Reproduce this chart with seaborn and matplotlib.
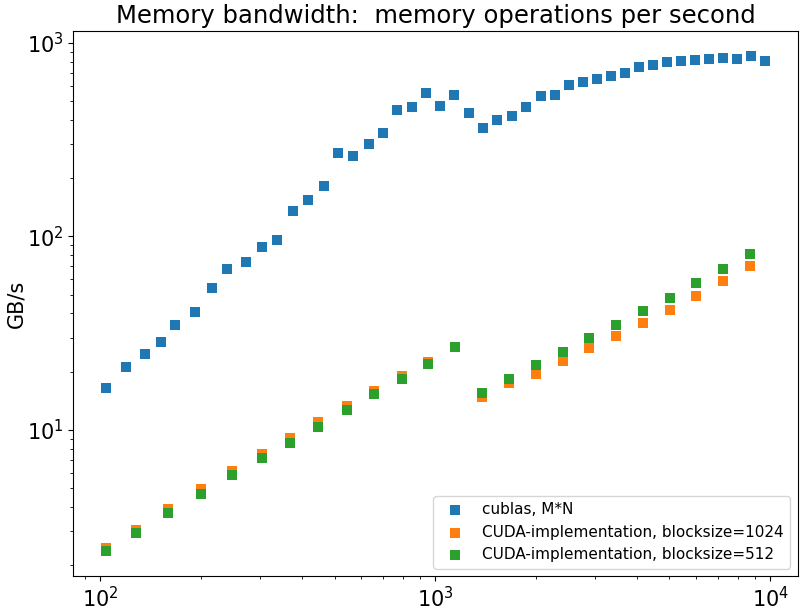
import matplotlib
matplotlib.use("Agg")
import matplotlib.pyplot as plt
import pandas as pd
import seaborn as sns

# matrix size (x) and bandwidth in GB/s (y)
cublas_n = [104, 119, 136, 152, 167, 192, 215, 239, 272, 304, 337, 376, 417, 465,
            512, 568, 634, 698, 768, 851, 937, 1032, 1136, 1260, 1387, 1527, 1693,
            1864, 2067, 2275, 2504, 2758, 3036, 3344, 3681, 4053, 4462, 4913, 5409,
            5956, 6557, 7219, 7950, 8754, 9637]
cublas_gbs = [16.5, 21.2, 24.8, 28.6, 35.0, 40.9, 54.4, 67.5, 74.2, 87.7, 95.4, 134.8,
              153.7, 181.6, 269.2, 259.7, 299.7, 341.8, 449.7, 466.1, 550.8, 471.7,
              537.8, 433.8, 362.7, 399.0, 418.6, 466.1, 531.4, 537.8, 606.0, 628.1,
              651.0, 674.5, 699.2, 751.1, 769.1, 797.2, 806.8, 816.4, 826.3, 836.2,
              826.3, 856.3, 806.8]

cuda_n = [104, 128, 159, 200, 247, 304, 368, 446, 545, 656, 795, 950, 1144, 1378,
          1658, 1997, 2404, 2874, 3460, 4166, 5015, 5997, 7219, 8693]
cuda_1024_gbs = [2.47, 3.06, 3.89, 4.94, 6.12, 7.49, 9.07, 10.98, 13.28, 15.89, 19.00,
                 22.45, 26.85, 14.84, 17.54, 19.51, 22.78, 26.60, 30.69, 35.84, 41.86,
                 49.47, 59.16, 70.74]
cuda_512_gbs = [2.36, 2.93, 3.72, 4.67, 5.85, 7.17, 8.57, 10.38, 12.71, 15.38, 18.40,
                22.00, 26.69, 15.55, 18.37, 21.72, 25.36, 29.98, 34.99, 41.37, 48.31,
                57.77, 68.29, 81.64]

labels = ["cublas, M*N", "CUDA-implementation, blocksize=1024",
          "CUDA-implementation, blocksize=512"]
colors = ["#1f77b4", "#ff7f0e", "#2ca02c"]

df_cublas = pd.DataFrame({"N": cublas_n, "GBs": cublas_gbs})
df_1024 = pd.DataFrame({"N": cuda_n, "GBs": cuda_1024_gbs})
df_512 = pd.DataFrame({"N": cuda_n, "GBs": cuda_512_gbs})

fig, ax = plt.subplots(figsize=(8.05, 6.11), dpi=100)
fig.subplots_adjust(left=0.091, right=0.991, bottom=0.057, top=0.949)

for d, lab, c in zip([df_cublas, df_1024, df_512], labels, colors):
    sns.scatterplot(data=d, x="N", y="GBs", marker="s", s=45, color=c,
                    linewidth=0, label=lab, ax=ax)

ax.set_xscale("log")
ax.set_yscale("log")
ax.set_title("Memory bandwidth:  memory operations per second", fontsize=17.5)
ax.set_xlabel("")
ax.set_ylabel("GB/s", fontsize=15, labelpad=0)
ax.tick_params(axis="both", which="major", labelsize=15)
ax.legend(loc="lower right", fontsize=11)

plt.savefig("out.png", dpi=100)
